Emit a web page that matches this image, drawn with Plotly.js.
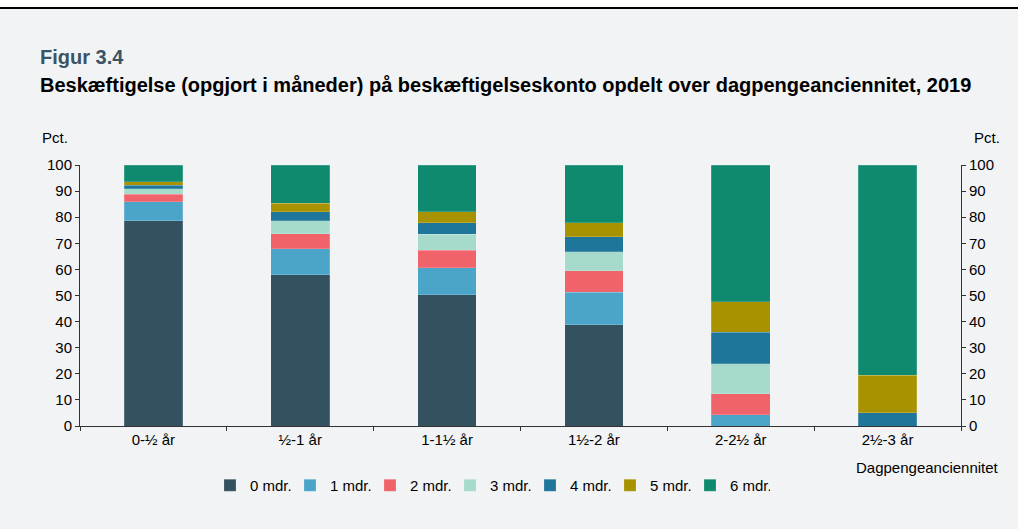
<!DOCTYPE html>
<html>
<head>
<meta charset="utf-8">
<script src="https://cdn.plot.ly/plotly-3.0.1.min.js"></script>
<style>
  html, body { margin: 0; padding: 0; }
  #wrap { width: 1018px; height: 529px; position: relative;
          background: linear-gradient(to bottom, #ffffff 0px, #ffffff 7px, #000000 7px, #000000 9px, #f2f3f5 9px); }
  #chart { width: 1018px; height: 529px; position: absolute; left: 0; top: 0; }
</style>
</head>
<body>
<div id="wrap"><div id="chart"></div></div>
<script>
const categories = ["0-½ år", "½-1 år", "1-1½ år", "1½-2 år", "2-2½ år", "2½-3 år"];
const seriesNames = ["0 mdr.", "1 mdr.", "2 mdr.", "3 mdr.", "4 mdr.", "5 mdr.", "6 mdr."];
const mdr0 = [78.7, 58.0, 50.2, 38.7, 0, 0];
const mdr1 = [7.2, 9.9, 10.5, 12.6, 4.3, 0];
const mdr2 = [2.9, 5.8, 6.7, 8.1, 8.0, 0];
const mdr3 = [2.1, 5.0, 6.0, 7.4, 11.5, 0];
const mdr4 = [1.3, 3.4, 4.5, 5.7, 12.2, 5.1];
const mdr5 = [1.4, 3.3, 4.1, 5.4, 11.6, 14.3];
const mdr6 = [6.4, 14.6, 18.0, 22.1, 52.4, 80.6];
const yTicks = [0, 10, 20, 30, 40, 50, 60, 70, 80, 90, 100];

const seriesValues = [mdr0, mdr1, mdr2, mdr3, mdr4, mdr5, mdr6];
const colors = ["#34515f", "#4ba5c9", "#f0636b", "#a6dacb", "#1f769b", "#a89200", "#0f8a6e"];
const FONT = "Liberation Sans, Arial, sans-serif";
const FS = 15;

const traces = seriesValues.map((vals, i) => ({
  type: "bar",
  name: seriesNames[i],
  x: categories,
  y: vals,
  marker: { color: colors[i], line: { width: 0.5, color: "rgba(255,255,255,0.35)" } },
  hoverinfo: "x+y+name"
}));
// invisible companion trace so the right-hand axis is drawn
traces.push({
  type: "scatter", mode: "markers", x: categories, y: mdr0, yaxis: "y2",
  marker: { opacity: 0 }, showlegend: false, hoverinfo: "skip"
});

const axisCommon = {
  range: [0, 100],
  tickvals: yTicks,
  ticktext: yTicks.map(String),
  ticks: "outside",
  ticklen: 4,
  tickcolor: "#333",
  showline: true,
  linecolor: "#333",
  linewidth: 1,
  showgrid: false,
  zeroline: false,
  automargin: false,
  tickfont: { family: FONT, size: FS, color: "#000" },
  fixedrange: true
};

const layout = {
  width: 1018,
  height: 529,
  paper_bgcolor: "rgba(0,0,0,0)",
  plot_bgcolor: "rgba(0,0,0,0)",
  barmode: "stack",
  bargap: 0.6,
  margin: { l: 80, r: 57, t: 165, b: 103 },
  font: { family: FONT, size: FS, color: "#000" },
  title: {
    text: "Beskæftigelse (opgjort i måneder) på beskæftigelseskonto opdelt over dagpengeanciennitet, 2019",
    font: { family: FONT, size: 20, color: "#000", weight: "bold" },
    x: 40 / 1018, xanchor: "left", xref: "container",
    y: 1 - 85 / 529, yanchor: "middle", yref: "container"
  },
  xaxis: {
    type: "category",
    range: [-0.5, 5.5],
    showline: true,
    linecolor: "#333",
    linewidth: 1,
    ticks: "outside",
    tickson: "boundaries",
    ticklen: 4,
    tickcolor: "#333",
    showgrid: false,
    automargin: false,
    tickfont: { family: FONT, size: FS, color: "#000" },
    fixedrange: true
  },
  yaxis: Object.assign({}, axisCommon, { side: "left" }),
  yaxis2: Object.assign({}, axisCommon, { side: "right", overlaying: "y", anchor: "x" }),
  legend: {
    orientation: "h",
    x: (210 - 80) / 881, xanchor: "left",
    y: (426 - 469) / 261, yanchor: "top",
    entrywidth: 35,
    entrywidthmode: "pixels",
    itemwidth: 30,
    traceorder: "normal",
    font: { family: FONT, size: FS, color: "#000" },
    bgcolor: "rgba(0,0,0,0)"
  },
  annotations: [
    { text: "Figur 3.4", xref: "paper", yref: "paper",
      x: (38 - 80) / 881, y: (426 - 57) / 261, xanchor: "left", yanchor: "middle",
      showarrow: false, font: { family: FONT, size: 20, color: "#3b5364", weight: "bold" } },
    { text: "Pct.", xref: "paper", yref: "paper",
      x: (40 - 80) / 881, y: (426 - 137) / 261, xanchor: "left", yanchor: "middle",
      showarrow: false, font: { family: FONT, size: FS, color: "#000" } },
    { text: "Pct.", xref: "paper", yref: "paper",
      x: (972 - 80) / 881, y: (426 - 137) / 261, xanchor: "left", yanchor: "middle",
      showarrow: false, font: { family: FONT, size: FS, color: "#000" } },
    { text: "Dagpengeanciennitet", xref: "paper", yref: "paper",
      x: (1001 - 80) / 881, y: (426 - 467) / 261, xanchor: "right", yanchor: "middle",
      showarrow: false, font: { family: FONT, size: FS, color: "#000" } }
  ]
};

Plotly.newPlot("chart", traces, layout, { displayModeBar: false, staticPlot: true });
</script>
</body>
</html>
